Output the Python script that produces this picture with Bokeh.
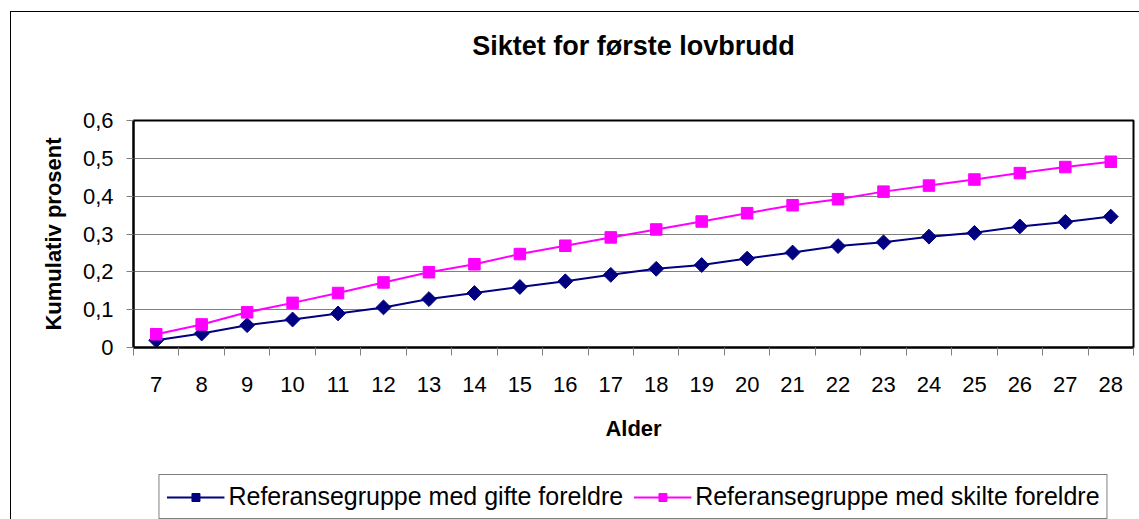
import math
from bokeh.plotting import figure
from bokeh.layouts import column
from bokeh.models import Range1d, FixedTicker, Legend, LegendItem
from bokeh.embed import file_html
from bokeh.resources import INLINE

# ---- data ----
ages = [7, 8, 9, 10, 11, 12, 13, 14, 15, 16, 17, 18, 19, 20, 21, 22, 23, 24, 25, 26, 27, 28]
gifte = [0.019, 0.037, 0.059, 0.074, 0.090, 0.106, 0.128, 0.144, 0.160, 0.175, 0.192,
         0.208, 0.218, 0.235, 0.251, 0.268, 0.278, 0.293, 0.303, 0.320, 0.332, 0.346]
skilte = [0.035, 0.061, 0.093, 0.118, 0.144, 0.172, 0.199, 0.220, 0.247, 0.269, 0.291,
          0.312, 0.333, 0.355, 0.376, 0.392, 0.412, 0.428, 0.444, 0.461, 0.477, 0.491]
y_ticks = [0, 0.1, 0.2, 0.3, 0.4, 0.5, 0.6]
y_tick_labels = ["0", "0,1", "0,2", "0,3", "0,4", "0,5", "0,6"]
title_text = "Siktet for første lovbrudd"
x_title = "Alder"
y_title = "Kumulativ prosent"
series_names = ["Referansegruppe med gifte foreldre", "Referansegruppe med skilte foreldre"]

FONT = "Liberation Sans"
navy = "#000080"
pink = "#FF00FF"

# ---- title strip ----
tp = figure(width=1128, height=72, output_backend="svg", toolbar_location=None,
            x_axis_type=None, y_axis_type=None,
            min_border_left=14, min_border_right=0, min_border_top=0, min_border_bottom=0)
tp.outline_line_color = None
tp.xgrid.visible = False
tp.ygrid.visible = False
tp.border_fill_color = "white"
tp.title.text = title_text
tp.title.text_font = FONT
tp.title.text_font_size = "27px"
tp.title.text_font_style = "bold"
tp.title.text_color = "black"
tp.title.align = "center"
tp.title.standoff = 32

# ---- main chart ----
p = figure(width=1128, height=373, output_backend="svg", toolbar_location=None,
           x_range=Range1d(ages[0] - 0.5, ages[-1] + 0.5), y_range=Range1d(0, 0.6),
           min_border_left=122, min_border_right=6, min_border_top=36, min_border_bottom=110)
p.title_location = None

xa = p.xaxis[0]
ya = p.yaxis[0]

p.outline_line_color = "black"
p.outline_line_width = 2
p.background_fill_color = "white"
p.border_fill_color = "white"

# x axis
xa.ticker = FixedTicker(ticks=ages, minor_ticks=[a - 0.5 for a in ages] + [ages[-1] + 0.5])
xa.major_tick_out = 0
xa.major_tick_in = 0
xa.minor_tick_out = 8
xa.minor_tick_in = 0
xa.minor_tick_line_color = "#808080"
xa.axis_line_color = "black"
xa.axis_line_width = 2
xa.major_label_text_font = FONT
xa.major_label_text_font_size = "22px"
xa.major_label_text_color = "black"
xa.major_label_standoff = 21
xa.axis_label = x_title
xa.axis_label_text_font = FONT
xa.axis_label_text_font_size = "22px"
xa.axis_label_text_font_style = "bold"
xa.axis_label_text_color = "black"
xa.axis_label_standoff = 21

# y axis
ya.ticker = FixedTicker(ticks=y_ticks, minor_ticks=[])
ya.major_label_overrides = {t: lab for t, lab in zip(y_ticks, y_tick_labels)}
ya.major_tick_out = 7
ya.major_tick_in = 0
ya.major_tick_line_color = "#808080"
ya.axis_line_color = "black"
ya.axis_line_width = 2
ya.major_label_text_font = FONT
ya.major_label_text_font_size = "22px"
ya.major_label_text_color = "black"
ya.major_label_standoff = 13
ya.axis_label = y_title
ya.axis_label_text_font = FONT
ya.axis_label_text_font_size = "22px"
ya.axis_label_text_font_style = "bold"
ya.axis_label_text_color = "black"
ya.axis_label_standoff = 14

p.xgrid.visible = False
p.ygrid.ticker = FixedTicker(ticks=y_ticks)
p.ygrid.grid_line_color = "#808080"
p.ygrid.grid_line_width = 1

p.line(ages, gifte, line_color=navy, line_width=2)
p.scatter(ages, gifte, marker="square", angle=math.pi / 4, size=10.5,
          fill_color=navy, line_color=navy)
p.line(ages, skilte, line_color=pink, line_width=2)
p.scatter(ages, skilte, marker="square", size=11.5, fill_color=pink, line_color=pink)

# ---- legend strip (same glyph styles; its data lies outside the strip's ranges) ----
lp = figure(width=1128, height=64, output_backend="svg", toolbar_location=None,
            x_axis_type=None, y_axis_type=None,
            x_range=Range1d(-2, -1), y_range=Range1d(-2, -1),
            min_border_left=116, min_border_right=0, min_border_top=0, min_border_bottom=0)
lp.outline_line_color = None
lp.xgrid.visible = False
lp.ygrid.visible = False
lp.border_fill_color = "white"
k1 = lp.line(ages[:2], gifte[:2], line_color=navy, line_width=2)
s1 = lp.scatter(ages[:2], gifte[:2], marker="square", angle=math.pi / 4, size=10.5,
                fill_color=navy, line_color=navy)
k2 = lp.line(ages[:2], skilte[:2], line_color=pink, line_width=2)
s2 = lp.scatter(ages[:2], skilte[:2], marker="square", size=11.5, fill_color=pink, line_color=pink)

legend = Legend(items=[LegendItem(label=series_names[0], renderers=[k1, s1]),
                       LegendItem(label=series_names[1], renderers=[k2, s2])],
                orientation="horizontal", location="top_center")
legend.label_text_font = FONT
legend.label_text_font_size = "25px"
legend.label_text_color = "black"
legend.border_line_color = "black"
legend.border_line_width = 1
legend.glyph_width = 58
legend.label_standoff = 4
legend.spacing = 10
legend.padding = 7
legend.margin = 17
lp.add_layout(legend, "center")

layout = column(tp, p, lp, spacing=0,
                styles={"border-top": "1px solid #000000", "border-left": "1px solid #000000",
                        "margin-left": "10px", "margin-top": "11px"})

open("out.html", "w").write(file_html(layout, INLINE))
